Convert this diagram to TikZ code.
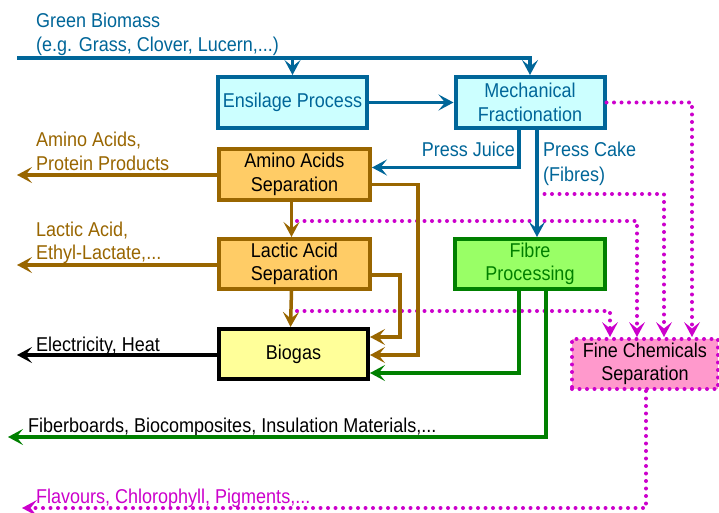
\documentclass[tikz,border=0pt]{standalone}
\usepackage{fontspec}
\setmainfont{Liberation Sans}[FakeStretch=0.9]
\usetikzlibrary{arrows.meta}
\definecolor{bl}{HTML}{006699}
\definecolor{br}{HTML}{996600}
\definecolor{gr}{HTML}{008000}
\definecolor{mg}{HTML}{CC00CC}
\definecolor{cyanfill}{HTML}{CCFFFF}
\definecolor{orfill}{HTML}{FFCC66}
\definecolor{yefill}{HTML}{FFFF99}
\definecolor{grfill}{HTML}{99FF66}
\definecolor{pkfill}{HTML}{FF99CC}
\begin{document}
\begin{tikzpicture}[x=1pt,y=-1pt,
  font=\fontsize{20}{23.5}\selectfont,
  tip/.style={-{Stealth[length=15pt,width=16pt,inset=6.5pt]}},
  box/.style={draw,line width=4pt,align=center,inner sep=0pt},
  bluebox/.style={box,draw=bl,fill=cyanfill,text=bl,minimum width=149pt,minimum height=51pt},
  orbox/.style={box,draw=br,fill=orfill,text=black,minimum width=151pt,minimum height=50pt},
  bline/.style={bl,line width=3.5pt,tip},
  brline/.style={br,line width=3.5pt,tip},
  kline/.style={black,line width=3.5pt,tip},
  gline/.style={gr,line width=3.5pt,tip},
  mline/.style={mg,line width=4pt,line cap=round,dash pattern=on 0pt off 7.5pt,-{Stealth[length=15pt,width=16pt,inset=6.5pt,line width=0pt]}},
  lbl/.style={anchor=base west,inner sep=0pt,align=left}]
\useasboundingbox (0,0) rectangle (719,513);
\fill[white] (0,0) rectangle (719,513);

% boxes
\node[bluebox] (ens) at (292.5,102.5) {Ensilage Process};
\node[bluebox] (mech) at (530,102.5) {Mechanical\\Fractionation};
\node[orbox] (amino) at (294.5,174.5) {Amino Acids\\Separation};
\node[orbox] (lactic) at (294.5,264) {Lactic Acid\\Separation};
\node[box,draw=black,fill=yefill,minimum width=149pt,minimum height=50pt] (biogas) at (293.5,354) {Biogas};
\node[box,draw=gr,fill=grfill,text=gr,minimum width=150pt,minimum height=50pt] (fibre) at (530,264) {Fibre\\Processing};
\node[box,draw=mg,line width=4pt,line cap=round,dash pattern=on 0pt off 7.5pt,fill=pkfill,text=black,minimum width=146pt,minimum height=50pt] (fine) at (645,364) {Fine Chemicals\\Separation};

% labels
\node[lbl,text=bl] (gb1) at (36,28) {Green Biomass};
\node[lbl,text=bl] (gb2) at (36,52) {(e.g. Grass, Clover, Lucern,...)};
\node[lbl,text=br] (aa1) at (36,147) {Amino Acids,};
\node[lbl,text=br] (aa2) at (36,170) {Protein Products};
\node[lbl,text=br] (la1) at (36,236) {Lactic Acid,};
\node[lbl,text=br] (la2) at (36,259) {Ethyl-Lactate,...};
\node[lbl,text=black] (el) at (36,351) {Electricity, Heat};
\node[lbl,text=black] (fb) at (28,432) {Fiberboards, Biocomposites, Insulation Materials,...};
\node[lbl,text=mg] (fl) at (36,503) {Flavours, Chlorophyll, Pigments,...};
\node[anchor=base east,inner sep=0pt,text=bl] (pj) at (515,157) {Press Juice};
\node[lbl,text=bl] (pc1) at (543,157) {Press Cake};
\node[lbl,text=bl] (pc2) at (543,182) {(Fibres)};

% coordinates
\coordinate (in) at (17,58);
\coordinate (aout) at (17,175);
\coordinate (lout) at (17,265);
\coordinate (bout) at (17,355);
\coordinate (fout) at (8,437);
\coordinate (flout) at (22,508);
\coordinate (pcb) at (537,194);
\coordinate (d1) at (297,221);
\coordinate (d2) at (297,311);

% dotted
\draw[mline] (mech.east) -| ([xshift=47pt]fine.north);
\draw[mline] (pcb) -| ([xshift=19pt]fine.north);
\draw[mline] (d1) -| ([xshift=-8pt]fine.north);
\draw[mline] (d2) -| ([xshift=-35pt]fine.north);
\draw[mline] ([xshift=1pt]fine.south) |- (flout);

% blue
\draw[bline] (in) -| (mech.north);
\draw[bline] (ens.north |- in) -- (ens.north);
\draw[bline] (ens) -- (mech);
\draw[bline] ([xshift=-11pt]mech.south) |- ([yshift=7pt]amino.east);
\draw[bline] ([xshift=7pt]mech.south) -- ([xshift=7pt]fibre.north);

% brown
\draw[brline] (amino.west |- aout) -- (aout);
\draw[brline] ([xshift=-3pt]amino.south) -- ([xshift=-3pt]lactic.north);
\draw[brline] ([yshift=-10pt]amino.east) -- ++(46,0) |- ([yshift=-1pt]biogas.east);
\draw[brline] ([yshift=-11pt]lactic.east) -- ++(28,0) |- ([yshift=17pt]biogas.east);
\draw[brline] (lactic.west |- lout) -- (lout);
\draw[brline] ([xshift=-3pt]lactic.south) -- ([xshift=-3pt]biogas.north);

% black
\draw[kline] (biogas.west |- bout) -- (bout);

% green
\draw[gline] ([xshift=-11pt]fibre.south) |- ([yshift=-19pt]biogas.east);
\draw[gline] ([xshift=16pt]fibre.south) |- (fout);
\end{tikzpicture}
\end{document}
